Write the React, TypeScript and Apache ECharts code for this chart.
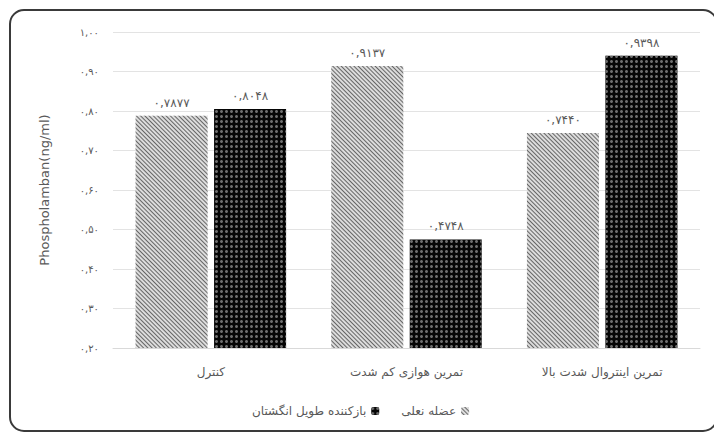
import React, { useEffect, useRef } from "react";
import * as echarts from "echarts";

const categories = ["کنترل", "تمرین هوازی کم شدت", "تمرین اینتروال شدت بالا"];
const seriesNames = ["عضله نعلی", "بازکننده طویل انگشتان"];
const soleusValues = [0.7877, 0.9137, 0.744];
const edlValues = [0.8048, 0.4748, 0.9398];
const yMin = 0.2;
const yMax = 1.0;
const yInterval = 0.1;
const yTitle = "Phospholamban(ng/ml)";

const FA = "۰۱۲۳۴۵۶۷۸۹";
function toFa(v: number, digits: number): string {
  const s = v.toFixed(digits);
  return s
    .split("")
    .map((c) => (c >= "0" && c <= "9" ? FA[+c] : c === "." ? "," : c))
    .join("");
}

const FONT = "'DejaVu Sans', 'Noto Sans', sans-serif";

export default function App() {
  const ref = useRef<HTMLDivElement>(null);
  useEffect(() => {
    if (!ref.current) return;
    const chart = echarts.init(ref.current, undefined, { renderer: "svg" });
    const labelStyle = {
      show: true,
      position: "top" as const,
      distance: 7,
      color: "#595959",
      fontSize: 12,
      fontFamily: FONT,
      formatter: (p: any) => toFa(p.value, 4),
    };
    chart.setOption({
      animation: false,
      backgroundColor: "#ffffff",
      textStyle: { fontFamily: FONT },
      graphic: [
        {
          type: "rect",
          shape: { x: 10, y: 10, width: 707, height: 421, r: 14 },
          style: { fill: "none", stroke: "#3a3a3a", lineWidth: 2 },
          silent: true,
          z: -10,
        },
      ],
      grid: { left: 113, right: 14, top: 32, bottom: 85 },
      legend: {
        data: [seriesNames[1], seriesNames[0]],
        left: 247,
        top: 400,
        align: "right",
        itemWidth: 8,
        itemHeight: 8,
        itemGap: 22,
        textStyle: { color: "#595959", fontSize: 12, fontFamily: FONT },
      },
      xAxis: {
        type: "category",
        data: categories,
        axisLine: { lineStyle: { color: "#d9d9d9" } },
        axisTick: { show: false },
        axisLabel: { color: "#595959", fontSize: 12, margin: 18, fontFamily: FONT },
      },
      yAxis: {
        type: "value",
        min: yMin,
        max: yMax,
        interval: yInterval,
        name: yTitle,
        nameLocation: "middle",
        nameRotate: 90,
        nameGap: 62,
        nameTextStyle: { color: "#595959", fontSize: 13, fontFamily: FONT },
        axisLine: { show: false },
        axisTick: { show: false },
        splitLine: { lineStyle: { color: "#e3e3e3" } },
        axisLabel: {
          color: "#595959",
          fontSize: 10,
          margin: 14,
          fontFamily: FONT,
          formatter: (v: number) => toFa(v, 2),
        },
      },
      series: [
        {
          name: seriesNames[0],
          type: "bar",
          data: soleusValues,
          barWidth: 72,
          barGap: "9%",
          itemStyle: {
            color: "#dcdcdc",
            decal: {
              symbol: "rect",
              symbolSize: 1,
              color: "#666666",
              dashArrayX: [1, 0],
              dashArrayY: [1, 1.4],
              rotation: Math.PI / 4,
            },
          },
          label: labelStyle,
        },
        {
          name: seriesNames[1],
          type: "bar",
          data: edlValues,
          barWidth: 72,
          barGap: "9%",
          itemStyle: {
            color: "#050505",
            decal: {
              symbol: "circle",
              symbolSize: 1,
              color: "#6e6e6e",
              dashArrayX: [2.5, 2],
              dashArrayY: [2.5, 2],
              rotation: 0,
            },
          },
          label: labelStyle,
        },
      ],
    });
    return () => chart.dispose();
  }, []);
  return <div ref={ref} style={{ width: 714, height: 433, position: "absolute", left: 0, top: 0 }} />;
}
